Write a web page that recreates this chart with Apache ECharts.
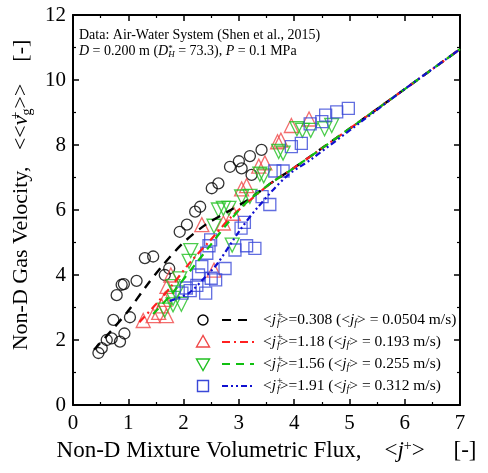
<!DOCTYPE html>
<html><head><meta charset="utf-8">
<script src="https://cdn.jsdelivr.net/npm/echarts@6/dist/echarts.min.js"></script>
<style>html,body{margin:0;padding:0;background:#fff}#c{width:488px;height:473px}</style>
</head><body><div id="c"></div>
<script>
// ---- data ----
const circlesX = [0.46,0.52,0.61,0.70,0.85,0.93,0.73,1.03,0.79,0.88,0.92,1.15,1.30,1.45,1.66,1.74,1.93,2.06,2.21,2.30,2.51,2.63,2.84,3.00,3.05,3.20,3.23,3.41];
const circlesY = [1.60,1.75,2.00,2.05,1.95,2.20,2.62,2.70,3.38,3.70,3.72,3.82,4.52,4.57,4.00,4.20,5.33,5.55,5.95,6.10,6.67,6.82,7.33,7.50,7.28,7.66,7.08,7.85];
const upTriX = [1.27,1.45,1.55,1.69,1.60,1.66,1.70,1.77,2.33,2.55,2.72,2.90,3.05,3.14,3.36,3.47,3.70,3.76,3.95,4.27];
const upTriY = [2.60,2.75,2.85,2.75,3.05,3.25,3.65,4.00,5.55,4.15,5.60,5.90,6.65,6.75,7.35,7.45,8.10,8.15,8.60,8.80];
const downTriX = [1.66,1.81,1.96,1.81,1.87,1.81,1.93,2.10,2.13,2.55,2.63,2.72,2.82,2.88,3.05,3.20,3.38,3.45,3.72,3.80,4.05,4.15,4.30,4.55,4.68];
const downTriY = [2.92,3.08,3.10,3.28,3.45,3.64,3.88,4.42,4.75,5.50,6.00,6.05,6.05,4.92,6.40,6.42,7.10,7.05,7.80,7.75,8.50,8.45,8.45,8.50,8.60];
const squaresX = [1.97,2.12,2.05,2.24,2.40,2.27,2.33,2.50,2.58,2.75,2.42,2.46,2.49,2.93,3.14,3.29,3.04,3.10,3.42,3.56,3.65,3.80,3.95,4.13,4.29,4.50,4.57,4.77,4.98];
const squaresY = [3.44,3.52,3.60,3.68,3.44,4.00,4.26,3.90,3.85,4.20,4.67,4.90,5.08,4.77,4.90,4.82,5.44,5.62,6.41,6.17,7.20,7.20,7.95,8.05,8.65,8.72,8.92,9.02,9.13];

const modelBlackX = [0.38,0.70,1.00,1.30,1.60,2.00,2.40,2.80,3.20,3.60,4.00,5.00,6.00,7.00];
const modelBlackY = [1.70,2.30,2.90,3.60,4.25,5.00,5.55,5.95,6.35,6.85,7.30,8.50,9.72,10.95];
const modelRedX = [1.20,1.50,1.80,2.10,2.50,2.84,3.20,3.60,4.00,5.00,6.00,7.00];
const modelRedY = [2.55,3.10,3.70,4.35,5.10,5.75,6.30,6.85,7.30,8.50,9.72,10.95];
const modelGreenX = [1.45,1.80,2.20,2.50,2.80,3.15,3.60,4.00,5.00,6.00,7.00];
const modelGreenY = [2.80,3.45,4.30,4.95,5.60,6.25,6.85,7.30,8.50,9.72,10.95];
const modelBlueX = [1.75,2.10,2.40,2.62,3.02,3.35,3.87,4.30,5.20,6.00,7.00];
const modelBlueY = [3.20,3.45,3.95,4.37,5.38,6.10,7.05,7.55,8.70,9.72,10.95];

const xTicks = [0,1,2,3,4,5,6,7];
const yTicks = [0,2,4,6,8,10,12];
const legendVals = [['0.308','0.0504'],['1.18','0.193'],['1.56','0.255'],['1.91','0.312']];

// ---- chart ----
const FONT = 'Liberation Serif';
const zip = (a,b) => a.map((v,i)=>[v,b[i]]);
const C = {red:'#ff2020', green:'#10c010', blue:'#1010d0', redM:'#f04848', greenM:'#20c020', blueM:'#3a48d8'};

const axisCommon = {
  axisLine:{show:true,onZero:false,lineStyle:{color:'#000',width:2}},
  axisTick:{show:true,inside:true,length:6,lineStyle:{color:'#000',width:1.5}},
  minorTick:{show:true,splitNumber:2,length:3,lineStyle:{color:'#000',width:1.2}},
  splitLine:{show:false}
};
const chart = echarts.init(document.getElementById('c'),null,{renderer:'canvas'});

const richX = {
  n:{fontFamily:FONT,fontSize:23,color:'#000'},
  i:{fontFamily:FONT,fontSize:23,fontStyle:'italic',color:'#000'},
  sup:{fontFamily:FONT,fontSize:14,color:'#000',padding:[0,0,11,0]},
  sub:{fontFamily:FONT,fontSize:14,color:'#000',padding:[11,0,0,0]}
};
const richY = {
  n:{fontFamily:FONT,fontSize:22,color:'#000'},
  i:{fontFamily:FONT,fontSize:22,fontStyle:'italic',color:'#000'},
  sup:{fontFamily:FONT,fontSize:14,color:'#000',padding:[0,0,11,0],width:0},
  sub:{fontFamily:FONT,fontSize:14,color:'#000',padding:[11,0,0,0]}
};

function scat(name,xs,ys,symbol,color,size,rot){
  return {type:'scatter',name,data:zip(xs,ys),symbol,symbolSize:size,symbolRotate:rot||0,
    itemStyle:{color:'rgba(0,0,0,0)',borderColor:color,borderWidth:1.3},z:3,silent:true};
}
function model(name,xs,ys,color,dash,w){
  return {type:'line',name,data:zip(xs,ys),symbol:'none',smooth:0.3,
    lineStyle:{color,width:w||2.2,type:dash},z:4,silent:true};
}

const legendG = [];
const legSym = [
  {t:'circle',c:'#000'},{t:'up',c:C.redM},{t:'down',c:C.greenM},{t:'sq',c:C.blueM}
];
const legLine = [{c:'#000',d:[9,7]},{c:C.red,d:[8,4,2,4]},{c:C.green,d:[8,6]},{c:C.blue,d:[6,3,2,3,2,3]}];
const rowY = [320,342,364,386];
rowY.forEach((y,k)=>{
  const s = legSym[k];
  const st = {fill:'none',stroke:s.c,lineWidth:1.4};
  if(s.t==='circle') legendG.push({type:'circle',shape:{cx:203,cy:y,r:5},style:{fill:'none',stroke:'#000',lineWidth:1.4}});
  else if(s.t==='up') legendG.push({type:'polygon',shape:{points:[[203,y-6.5],[196.5,y+5],[209.5,y+5]]},style:st});
  else if(s.t==='down') legendG.push({type:'polygon',shape:{points:[[203,y+6.5],[196.5,y-5],[209.5,y-5]]},style:st});
  else legendG.push({type:'rect',shape:{x:197.5,y:y-5.5,width:11,height:11},style:st});
  legendG.push({type:'line',shape:{x1:222,y1:y,x2:254,y2:y},style:{stroke:legLine[k].c,lineWidth:2.2,lineDash:legLine[k].d}});
  const v = legendVals[k];
  legendG.push({type:'text',left:263,top:y-10,style:{
    text:'{n|<}{i|j}{sup|+}{sub|f}{n|>='+v[0]+' (<}{i|j}{sub|f}{n|> = '+v[1]+' m/s)}',
    rich:{
      n:{fontFamily:FONT,fontSize:15.5,color:'#000',lineHeight:20},
      i:{fontFamily:FONT,fontSize:15.5,fontStyle:'italic',color:'#000',lineHeight:20},
      sup:{fontFamily:FONT,fontSize:10,color:'#000',padding:[0,0,9,1],width:0},
      sub:{fontFamily:FONT,fontSize:10,fontStyle:'italic',color:'#000',padding:[8,0,0,0]}
    }}});
});

const option = {
  animation:false,
  backgroundColor:'#fff',
  grid:{left:73,right:28,top:15,bottom:68,containLabel:false},
  xAxis:[
    Object.assign({type:'value',min:0,max:7,interval:1,position:'bottom',
      axisLabel:{fontFamily:FONT,fontSize:21,color:'#000',margin:8},
      name:'{n|Non-D Mixture Volumetric Flux,    <}{i|j}{sup|+}{n|>     [-]}',
      nameLocation:'middle',nameGap:33,nameTextStyle:{rich:richX}},axisCommon),
    Object.assign({type:'value',min:0,max:7,interval:1,position:'top',axisLabel:{show:false}},axisCommon)
  ],
  yAxis:[
    Object.assign({type:'value',min:0,max:12,interval:2,position:'left',
      axisLabel:{fontFamily:FONT,fontSize:21,color:'#000',margin:7},
      name:'{n|Non-D Gas Velocity,   <<}{i|v}{sup|+}{sub|g}{n|>>    [-]}',
      nameLocation:'middle',nameGap:38,nameRotate:90,nameTextStyle:{rich:richY,padding:[0,0,0,30]}},axisCommon),
    Object.assign({type:'value',min:0,max:12,interval:2,position:'right',axisLabel:{show:false}},axisCommon)
  ],
  series:[
    model('mBlack',modelBlackX,modelBlackY,'#000',[9,7],2.4),
    model('mRed',modelRedX,modelRedY,C.red,[8,4,2,4]),
    model('mGreen',modelGreenX,modelGreenY,C.green,[8,6]),
    model('mBlue',modelBlueX,modelBlueY,C.blue,[6,3,2,3,2,3]),
    scat('c',circlesX,circlesY,'circle','#000',11),
    scat('u',upTriX,upTriY,'triangle',C.redM,14),
    scat('d',downTriX,downTriY,'triangle',C.greenM,14,180),
    scat('s',squaresX,squaresY,'rect',C.blueM,12)
  ],
  graphic:[
    {type:'text',left:79,top:28,style:{text:'Data: Air-Water System (Shen et al., 2015)',font:'14px "Liberation Serif"',fill:'#000'}},
    {type:'text',left:79,top:44,style:{
      text:'{i|D}{n| = 0.200 m (}{i|D}{ss|*}{sb|H}{n| = 73.3), }{i|P}{n| = 0.1 MPa}',
      rich:{
        n:{fontFamily:FONT,fontSize:14,color:'#000'},
        i:{fontFamily:FONT,fontSize:14,fontStyle:'italic',color:'#000'},
        ss:{fontFamily:FONT,fontSize:9,color:'#000',padding:[0,0,6,0],width:0},
        sb:{fontFamily:FONT,fontSize:9,fontStyle:'italic',color:'#000',padding:[6,0,0,0]}
      }}}
  ].concat(legendG)
};
chart.setOption(option);
</script></body></html>
